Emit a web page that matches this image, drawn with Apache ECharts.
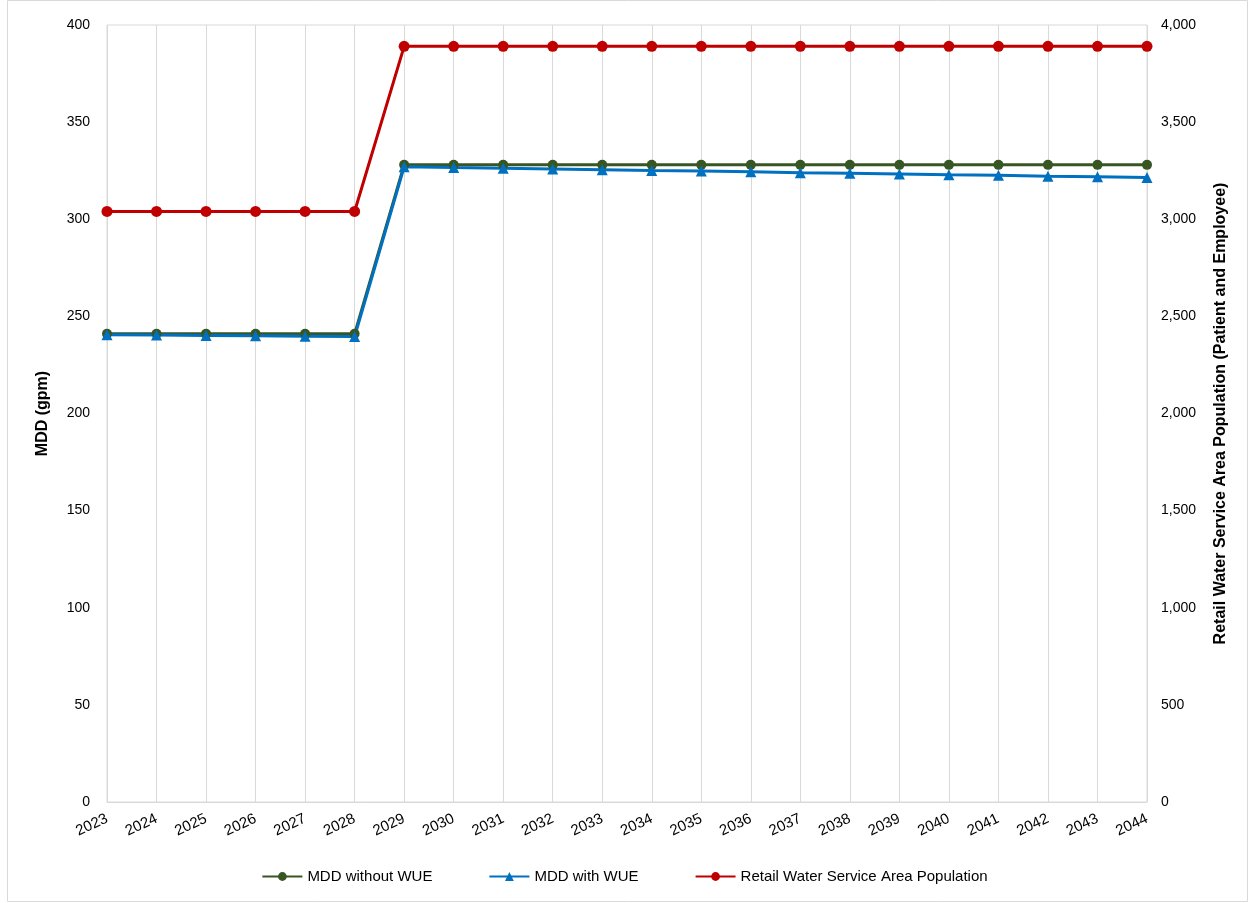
<!DOCTYPE html>
<html><head><meta charset="utf-8">
<script src="https://cdn.jsdelivr.net/npm/echarts@6/dist/echarts.min.js"></script>
<style>html,body{margin:0;padding:0;background:#fff}#c{width:1249px;height:903px}</style>
</head><body><div id="c"></div>
<script>
const years = ['2023','2024','2025','2026','2027','2028','2029','2030','2031','2032','2033','2034','2035','2036','2037','2038','2039','2040','2041','2042','2043','2044'];
const mddWithoutWUE = [241,241,241,241,241,241,328,328,328,328,328,328,328,328,328,328,328,328,328,328,328,328];
const mddWithWUE = [240.6,240.4,240.2,240.0,239.8,239.6,327.0,326.6,326.3,325.9,325.5,325.1,324.8,324.4,324.0,323.7,323.3,322.9,322.6,322.2,321.9,321.5];
const population = [3040,3040,3040,3040,3040,3040,3890,3890,3890,3890,3890,3890,3890,3890,3890,3890,3890,3890,3890,3890,3890,3890];
const leftTicks = {min:0, max:400, interval:50};
const rightTicks = {min:0, max:4000, interval:500};

const font = 'Liberation Sans, Arial, sans-serif';
const chart = echarts.init(document.getElementById('c'));
chart.setOption({
  animation:false,
  textStyle:{fontFamily:font},
  graphic:[{type:'rect',shape:{x:7.5,y:0.5,width:1240,height:901},style:{fill:'none',stroke:'#d9d9d9',lineWidth:1},silent:true}],
  grid:{left:107,right:102,top:25,bottom:101,show:true,borderColor:'#d9d9d9',borderWidth:1,containLabel:false},
  legend:{bottom:14,left:'center',itemWidth:40,itemHeight:11,itemGap:56,
    textStyle:{fontSize:15,color:'#000',fontFamily:font},
    data:['MDD without WUE','MDD with WUE','Retail Water Service Area Population']},
  xAxis:{type:'category',data:years,boundaryGap:false,
    axisLine:{lineStyle:{color:'#d9d9d9'}},axisTick:{show:false},
    splitLine:{show:true,lineStyle:{color:'#d9d9d9',width:1}},
    axisLabel:{rotate:25,color:'#000',fontSize:15,margin:16,interval:0,fontFamily:font}},
  yAxis:[
    {type:'value',min:leftTicks.min,max:leftTicks.max,interval:leftTicks.interval,
     name:'MDD (gpm)',nameLocation:'middle',nameGap:56,
     nameTextStyle:{fontSize:16,fontWeight:'bold',color:'#000',fontFamily:font},
     axisLine:{show:false},axisTick:{show:false},splitLine:{show:false},
     axisLabel:{color:'#000',fontSize:14,margin:17,fontFamily:font}},
    {type:'value',min:rightTicks.min,max:rightTicks.max,interval:rightTicks.interval,
     name:'Retail Water Service Area Population (Patient and Employee)',nameLocation:'middle',nameGap:66,
     nameRotate:90,
     nameTextStyle:{fontSize:16,fontWeight:'bold',color:'#000',fontFamily:font},
     axisLine:{show:false},axisTick:{show:false},splitLine:{show:false},
     axisLabel:{color:'#000',fontSize:14,margin:14,fontFamily:font,
       formatter:v=>v.toLocaleString('en-US')}}
  ],
  series:[
    {name:'MDD without WUE',type:'line',yAxisIndex:0,data:mddWithoutWUE,
     symbol:'circle',symbolSize:10,lineStyle:{color:'#375623',width:3},
     itemStyle:{color:'#375623'}},
    {name:'MDD with WUE',type:'line',yAxisIndex:0,data:mddWithWUE,
     symbol:'triangle',symbolSize:11,lineStyle:{color:'#0070c0',width:3},
     itemStyle:{color:'#0070c0'}},
    {name:'Retail Water Service Area Population',type:'line',yAxisIndex:1,data:population,
     symbol:'circle',symbolSize:11,lineStyle:{color:'#c00000',width:3},
     itemStyle:{color:'#c00000'}}
  ]
});
</script></body></html>
